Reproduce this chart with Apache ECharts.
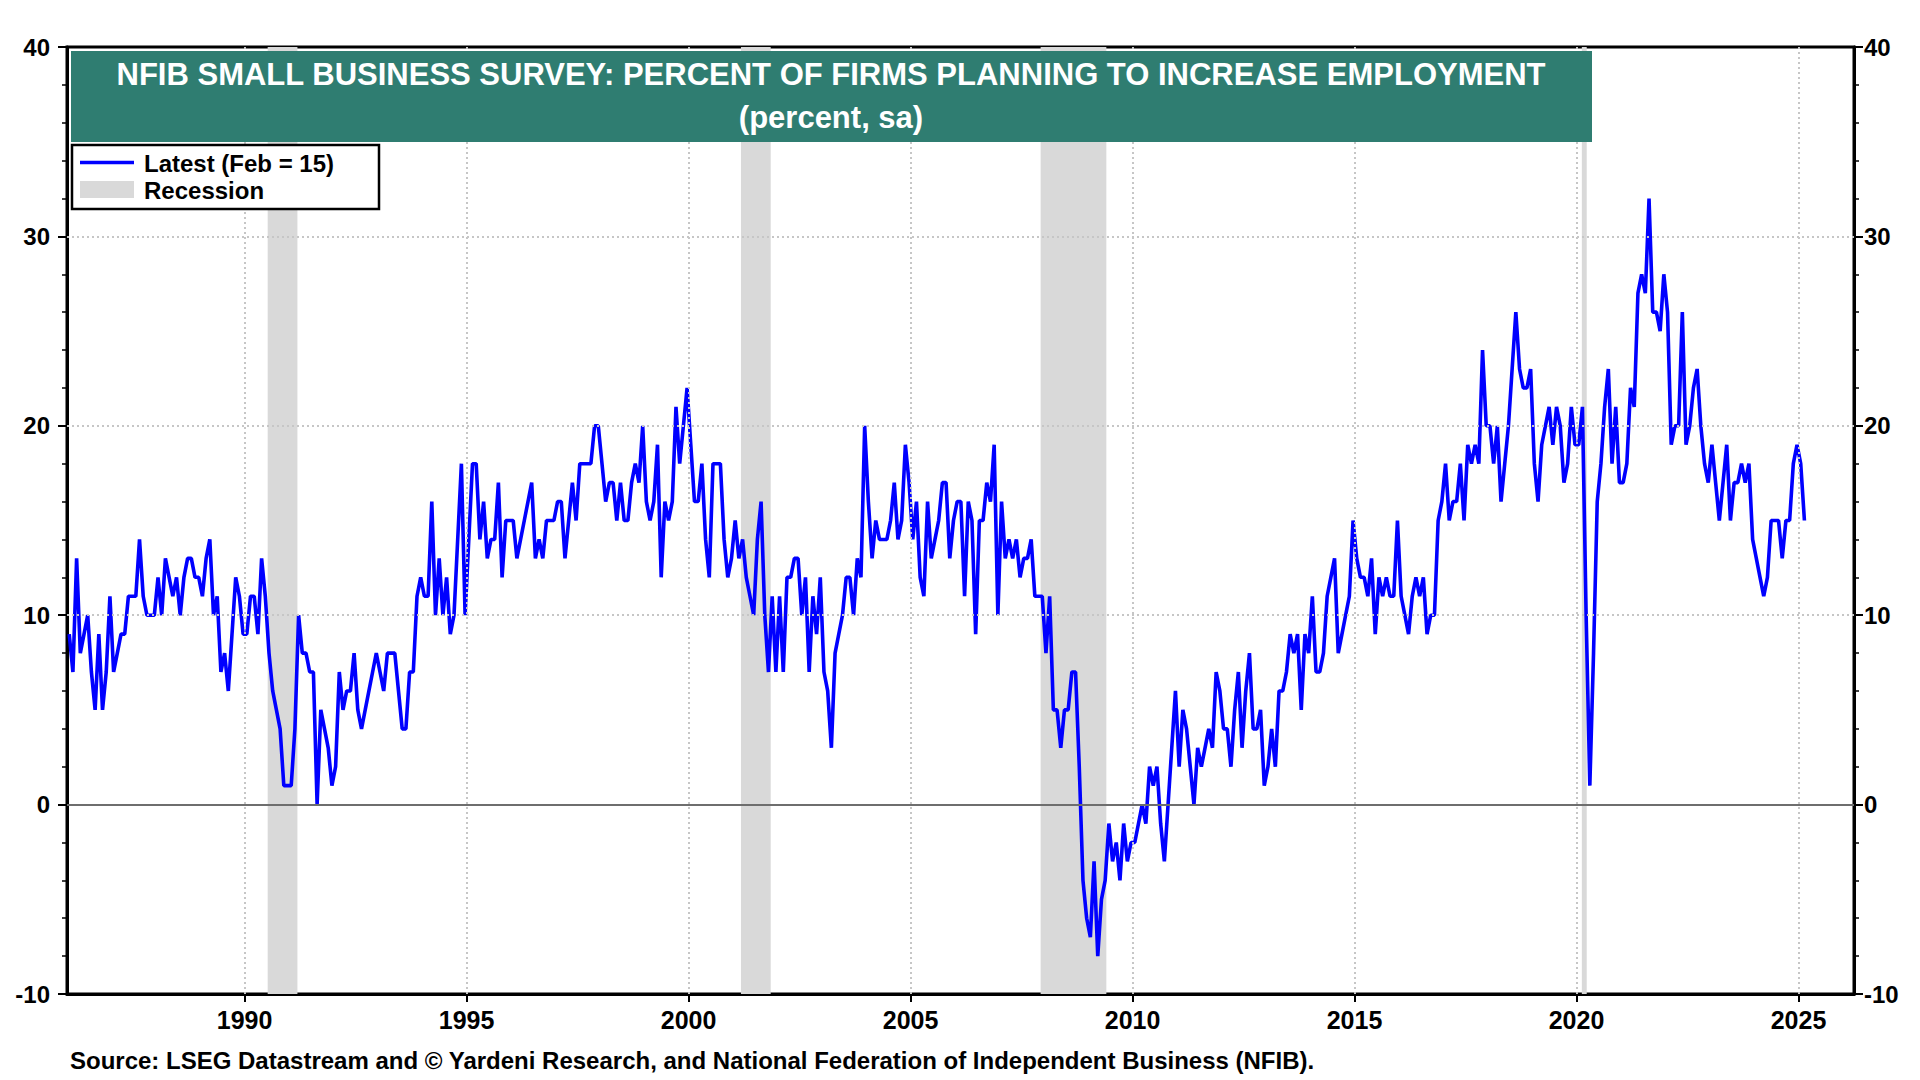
<!DOCTYPE html>
<html>
<head>
<meta charset="utf-8">
<script src="https://cdn.jsdelivr.net/npm/echarts@6/dist/echarts.min.js"></script>
<style>
html,body{margin:0;padding:0;background:#ffffff;}
#chart{width:1920px;height:1080px;}
</style>
</head>
<body>
<div id="chart"></div>
<script>
// ---------------- DATA ----------------
const firstYear = 1986; // series starts Jan 1986, monthly
const v1986_1989 = [
  9, 7, 13, 8, 9, 10, 7, 5, 9, 5, 7, 11,
  7, 8, 9, 9, 11, 11, 11, 14, 11, 10, 10, 10,
  12, 10, 13, 12, 11, 12, 10, 12, 13, 13, 12, 12,
  11, 13, 14, 10, 11, 7, 8, 6, 9, 12, 11, 9
];
const v1990s = [
  9, 11, 11, 9, 13, 11, 8, 6, 5, 4, 1, 1,
  1, 4, 10, 8, 8, 7, 7, 0, 5, 4, 3, 1,
  2, 7, 5, 6, 6, 8, 5, 4, 5, 6, 7, 8,
  7, 6, 8, 8, 8, 6, 4, 4, 7, 7, 11, 12,
  11, 11, 16, 10, 13, 10, 12, 9, 10, 14, 18, 10,
  14, 18, 18, 14, 16, 13, 14, 14, 17, 12, 15, 15,
  15, 13, 14, 15, 16, 17, 13, 14, 13, 15, 15, 15,
  16, 16, 13, 15, 17, 15, 18, 18, 18, 18, 20, 20,
  18, 16, 17, 17, 15, 17, 15, 15, 17, 18, 17, 20,
  16, 15, 16, 19, 12, 16, 15, 16, 21, 18, 20, 22
];
const v2000s = [
  19, 16, 16, 18, 14, 12, 18, 18, 18, 14, 12, 13,
  15, 13, 14, 12, 11, 10, 14, 16, 10, 7, 11, 7,
  11, 7, 12, 12, 13, 13, 10, 12, 7, 11, 9, 12,
  7, 6, 3, 8, 9, 10, 12, 12, 10, 13, 12, 20,
  16, 13, 15, 14, 14, 14, 15, 17, 14, 15, 19, 17,
  14, 16, 12, 11, 16, 13, 14, 15, 17, 17, 13, 15,
  16, 16, 11, 16, 15, 9, 15, 15, 17, 16, 19, 10,
  16, 13, 14, 13, 14, 12, 13, 13, 14, 11, 11, 11,
  8, 11, 5, 5, 3, 5, 5, 7, 7, 2, -4, -6,
  -7, -3, -8, -5, -4, -1, -3, -2, -4, -1, -3, -2
];
const v2010s = [
  -2, -1, 0, -1, 2, 1, 2, -1, -3, 0, 3, 6,
  2, 5, 4, 2, 0, 3, 2, 3, 4, 3, 7, 6,
  4, 4, 2, 5, 7, 3, 6, 8, 4, 4, 5, 1,
  2, 4, 2, 6, 6, 7, 9, 8, 9, 5, 9, 8,
  11, 7, 7, 8, 11, 12, 13, 8, 9, 10, 11, 15,
  13, 12, 12, 11, 13, 9, 12, 11, 12, 11, 11, 15,
  11, 10, 9, 11, 12, 11, 12, 9, 10, 10, 15, 16,
  18, 15, 16, 16, 18, 15, 19, 18, 19, 18, 24, 20,
  20, 18, 20, 16, 18, 20, 23, 26, 23, 22, 22, 23,
  18, 16, 19, 20, 21, 19, 21, 20, 17, 18, 21, 19
];
const v2020s = [
  19, 21, 10, 1, 8, 16, 18, 21, 23, 18, 21, 17,
  17, 18, 22, 21, 27, 28, 27, 32, 26, 26, 25, 28,
  26, 19, 20, 20, 26, 19, 20, 22, 23, 20, 18, 17,
  19, 17, 15, 17, 19, 15, 17, 17, 18, 17, 18, 14,
  13, 12, 11, 12, 15, 15, 15, 13, 15, 15, 18, 19,
  18, 15
];
const recessionStart = [1990.52, 2001.18, 2007.93, 2020.12];
const recessionEnd   = [1991.19, 2001.85, 2009.41, 2020.23];
const xTickYears = [1990, 1995, 2000, 2005, 2010, 2015, 2020, 2025];
const yGridValues = [10, 20, 30];

const titleLine1 = 'NFIB SMALL BUSINESS SURVEY: PERCENT OF FIRMS PLANNING TO INCREASE EMPLOYMENT';
const titleLine2 = '(percent, sa)';
const legendLine = 'Latest (Feb = 15)';
const legendRecession = 'Recession';
const sourceText = 'Source: LSEG Datastream and \u00A9 Yardeni Research, and National Federation of Independent Business (NFIB).';

// ---------------- BUILD ----------------
const allValues = [].concat(v1986_1989, v1990s, v2000s, v2010s, v2020s);
const seriesData = allValues.map((v, i) => {
  const year = firstYear + Math.floor(i / 12);
  const month = i % 12;
  return [year + (month + 0.6) / 12, v];
});

const FONT = '"Liberation Sans", Arial, Helvetica, sans-serif';
const GRID = { left: 67, right: 66, top: 47, bottom: 86 };
const dotted = { color: '#c6c6c6', width: 2, type: [2, 3] };

const yAxisBase = {
  type: 'value', min: -10, max: 40, interval: 10,
  axisLine: { show: true, onZero: false, lineStyle: { color: '#000', width: 3 } },
  axisTick: { show: true, inside: false, length: 9, lineStyle: { color: '#000', width: 2 } },
  minorTick: { show: true, splitNumber: 5, length: 5, lineStyle: { color: '#000', width: 1.5 } },
  splitLine: { show: false },
  axisLabel: { color: '#000', fontSize: 24, fontWeight: 'bold', fontFamily: FONT }
};

const option = {
  backgroundColor: '#ffffff',
  animation: false,
  grid: { left: GRID.left, right: GRID.right, top: GRID.top, bottom: GRID.bottom,
          show: true, borderColor: '#000', borderWidth: 3, backgroundColor: 'transparent' },
  xAxis: {
    type: 'value', min: 1986, max: 2026.25,
    axisLine: { show: true, onZero: false, lineStyle: { color: '#000', width: 3 } },
    axisTick: { show: true, customValues: xTickYears, inside: false, length: 8, lineStyle: { color: '#000', width: 2 } },
    axisLabel: { customValues: xTickYears, formatter: v => String(v), color: '#000',
                 fontSize: 25, fontWeight: 'bold', fontFamily: FONT, margin: 13 },
    splitLine: { show: false }
  },
  yAxis: [
    Object.assign({}, yAxisBase, { position: 'left',
      axisLabel: Object.assign({}, yAxisBase.axisLabel, { margin: 17 }) }),
    Object.assign({}, yAxisBase, { position: 'right',
      axisLabel: Object.assign({}, yAxisBase.axisLabel, { margin: 10 }) })
  ],
  series: [
    {
      name: 'Recession', type: 'line', data: [], z: 1, silent: true,
      markArea: {
        silent: true,
        itemStyle: { color: '#d9d9d9' },
        data: recessionStart.map((s, k) => [{ xAxis: s }, { xAxis: recessionEnd[k] }])
      }
    },
    {
      name: 'grid', type: 'line', data: [], z: 2, silent: true,
      markLine: {
        silent: true, symbol: 'none', label: { show: false },
        lineStyle: dotted,
        data: xTickYears.map(y => ({ xAxis: y }))
          .concat(yGridValues.map(v => ({ yAxis: v })))
          .concat([{ yAxis: 0, lineStyle: { color: '#6e6e6e', width: 1.8, type: 'solid' } }])
      }
    },
    {
      name: legendLine, type: 'line', data: seriesData, z: 3,
      showSymbol: false, symbol: 'none', yAxisIndex: 0,
      lineStyle: { color: '#0000ff', width: 3.6 }
    }
  ],
  graphic: [
    { type: 'rect', z: 100, shape: { x: 71, y: 51, width: 1521, height: 91 },
      style: { fill: '#2f7d71' } },
    { type: 'text', z: 101, x: 831, y: 74,
      style: { text: titleLine1, fill: '#ffffff', font: 'bold 31px ' + FONT,
               align: 'center', verticalAlign: 'middle', textAlign: 'center', textVerticalAlign: 'middle' } },
    { type: 'text', z: 101, x: 831, y: 117,
      style: { text: titleLine2, fill: '#ffffff', font: 'bold 31px ' + FONT,
               align: 'center', verticalAlign: 'middle', textAlign: 'center', textVerticalAlign: 'middle' } },
    { type: 'rect', z: 100, shape: { x: 72, y: 145, width: 307, height: 64 },
      style: { fill: '#ffffff', stroke: '#000000', lineWidth: 2.5 } },
    { type: 'line', z: 101, shape: { x1: 80, y1: 162.5, x2: 134, y2: 162.5 },
      style: { stroke: '#0000ff', lineWidth: 3.5 } },
    { type: 'rect', z: 101, shape: { x: 80, y: 181, width: 54, height: 17 },
      style: { fill: '#d9d9d9' } },
    { type: 'text', z: 101, x: 144, y: 163,
      style: { text: legendLine, fill: '#000', font: 'bold 24px ' + FONT,
               align: 'left', verticalAlign: 'middle', textAlign: 'left', textVerticalAlign: 'middle' } },
    { type: 'text', z: 101, x: 144, y: 190,
      style: { text: legendRecession, fill: '#000', font: 'bold 24px ' + FONT,
               align: 'left', verticalAlign: 'middle', textAlign: 'left', textVerticalAlign: 'middle' } },
    { type: 'text', z: 101, x: 70, y: 1060,
      style: { text: sourceText, fill: '#000', font: 'bold 24px ' + FONT,
               align: 'left', verticalAlign: 'middle', textAlign: 'left', textVerticalAlign: 'middle' } }
  ]
};

const chart = echarts.init(document.getElementById('chart'), null, { renderer: 'svg', width: 1920, height: 1080 });
chart.setOption(option);
</script>
</body>
</html>
